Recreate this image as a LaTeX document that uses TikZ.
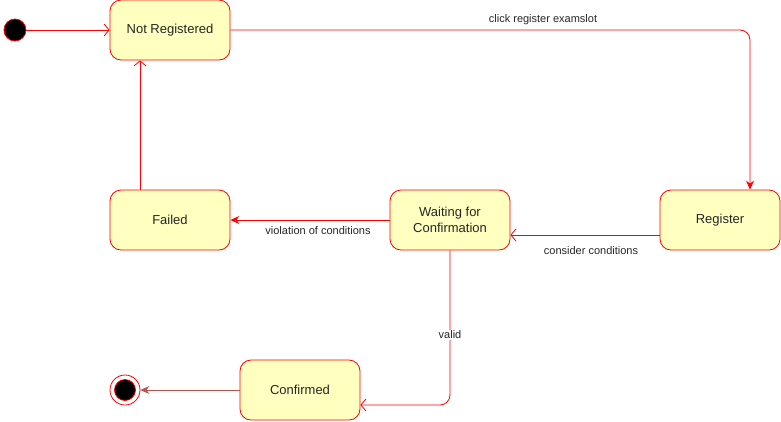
\documentclass[tikz,border=0pt]{standalone}
\usepackage{fontspec}
\setmainfont{Liberation Sans}
\usetikzlibrary{arrows.meta}
\definecolor{stfill}{HTML}{FFFFC0}
\definecolor{stred}{HTML}{FF0000}
\definecolor{endred}{HTML}{B85450}
\begin{document}
\begin{tikzpicture}[x=1pt,y=-1pt,
  state/.style={draw=stred,fill=stfill,rounded corners=11pt,minimum width=120pt,minimum height=60pt,
    align=center,font=\fontsize{13}{15.5}\selectfont,text=black!85,line width=0.8pt},
  conn/.style={draw=stred,line width=0.8pt},
  openarr/.style={-{Straight Barb[length=5pt,width=12pt]}},
  fillarr/.style={-{Stealth[length=9pt,width=8pt,inset=3pt]}},
  lbl/.style={font=\fontsize{11}{13}\selectfont,text=black!85}]
\useasboundingbox (0,0) rectangle (781,421);
% states
\node[state] (nr) at (170,30) {Not Registered};
\node[state] (reg) at (720,220) {Register};
\node[state] (wait) at (450,220) {Waiting for\\Confirmation};
\node[state] (fail) at (170,220) {Failed};
\node[state] (conf) at (300,390) {Confirmed};
% initial and final
\node[circle,fill=black,draw=stred,line width=0.8pt,minimum size=22pt,inner sep=0pt] (init) at (15,30) {};
\node[circle,fill=white,draw=stred,line width=0.8pt,minimum size=30pt,inner sep=0pt] (fin) at (125,390) {};
\node[circle,fill=black,draw=stred,line width=0.8pt,minimum size=21pt,inner sep=0pt] (finin) at (125,390) {};
% connectors
\draw[conn,openarr] (init.east) -- (nr.west);
\draw[conn,fillarr,rounded corners=10pt] (nr.east) -- (750,30) coordinate (c1) -- (c1 |- reg.north);
\node[lbl] (l1) at (543,20) {click register examslot};
\coordinate (rw) at ([yshift=-15pt]reg.west);
\draw[conn,openarr] (rw) -- (rw -| wait.east);
\node[lbl] (l2) at (591,251) {consider conditions};
\draw[conn,fillarr] (wait.west) -- (fail.east);
\node[lbl] (l3) at (318,231) {violation of conditions};
\draw[conn,openarr] (fail.north -| 140,0) -- (nr.south -| 140,0);
\coordinate (c2) at (450,405);
\draw[conn,openarr,rounded corners=10pt] (wait.south) -- (c2) -- (c2 -| conf.east);
\node[lbl,fill=white,inner sep=1pt] (l4) at (450,335) {valid};
\draw[draw=endred,line width=0.8pt,-{Stealth[length=9pt,width=8pt,inset=3pt]}] (conf.west) -- (fin.east);
\end{tikzpicture}
\end{document}
